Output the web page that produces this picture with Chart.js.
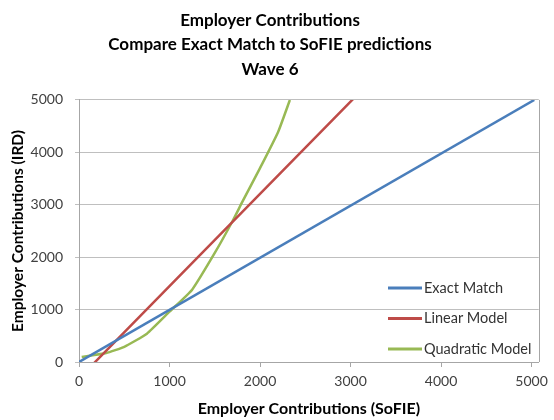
<!DOCTYPE html>
<html>
<head>
<meta charset="utf-8">
<script src="https://cdn.jsdelivr.net/npm/chart.js@4"></script>
<style>
  body { margin: 0; background: #fff; }
</style>
</head>
<body>
<canvas id="myChart" width="554" height="420"></canvas>
<script>
// data
const titleLines = ['Employer Contributions', 'Compare Exact Match to SoFIE predictions', 'Wave 6']
const seriesNames = ['Exact Match', 'Linear Model', 'Quadratic Model']
const xTitle = 'Employer Contributions (SoFIE)'
const yTitle = 'Employer Contributions (IRD)'
const xTicks = [0, 1000, 2000, 3000, 4000, 5000]
const yTicks = [0, 1000, 2000, 3000, 4000, 5000]

const exactX = [0, 5030]
const exactY = [0, 5000]
const linearX = [150, 1000, 2000, 3030]
const linearY = [-50, 1450, 3210, 5020]
const quadX = [30, 300, 500, 750, 1000, 1250, 1500, 1700, 1800, 2000, 2200, 2330]
const quadY = [95, 170, 290, 540, 960, 1380, 2080, 2700, 3040, 3700, 4390, 5000]

const colors = ['#4a7ebb', '#be4b48', '#98b954']

const pts = (xs, ys) => xs.map((x, i) => ({x: x, y: ys[i]}))

// little legend drawn inside the plot, like the excel one
const insideLegend = {
    id: 'insideLegend',
    afterDraw(chart) {
        const c = chart.ctx
        c.save()
        c.font = '14.5px Lato'
        c.fillStyle = '#333'
        c.textBaseline = 'middle'
        chart.data.datasets.forEach(function (ds, i) {
            const y = 288 + i * 30.5
            c.strokeStyle = ds.borderColor
            c.lineWidth = 3
            c.beginPath()
            c.moveTo(388, y)
            c.lineTo(422, y)
            c.stroke()
            c.fillText(ds.label, 424, y)
        })
        c.restore()
    }
}

// right side frame line
const frame = {
    id: 'frame',
    beforeDatasetsDraw(chart) {
        const a = chart.chartArea
        const c = chart.ctx
        c.save()
        c.strokeStyle = '#a6a6a6'
        c.lineWidth = 1
        c.beginPath()
        c.moveTo(Math.round(a.right) + 0.5, a.top)
        c.lineTo(Math.round(a.right) + 0.5, a.bottom)
        c.stroke()
        c.restore()
    }
}

const ctx = document.getElementById('myChart')
let myChart = new Chart(ctx, {
    type: 'line',
    data: {
        datasets: [
            {label: seriesNames[0], data: pts(exactX, exactY), borderColor: colors[0], backgroundColor: colors[0]},
            {label: seriesNames[1], data: pts(linearX, linearY), borderColor: colors[1], backgroundColor: colors[1]},
            {label: seriesNames[2], data: pts(quadX, quadY), borderColor: colors[2], backgroundColor: colors[2], tension: 0.15}
        ]
    },
    plugins: [frame, insideLegend],
    options: {
        responsive: false,
        animation: false,
        devicePixelRatio: 1,
        layout: {padding: {left: 0, right: 14, top: 0, bottom: 0}},
        datasets: {
            line: {pointRadius: 0, borderWidth: 2.5}
        },
        plugins: {
            legend: {display: false},
            tooltip: {enabled: false},
            title: {
                display: true,
                text: titleLines,
                color: '#000',
                font: {family: 'Lato', size: 17, weight: 'bold', lineHeight: 1.45},
                padding: {top: 8, bottom: 18}
            }
        },
        scales: {
            x: {
                type: 'linear',
                min: 0,
                max: 5080,
                afterFit: function (axis) { axis.height = 58 },
                afterBuildTicks: function (axis) { axis.ticks = xTicks.map(v => ({value: v})) },
                ticks: {color: '#404040', padding: 6, callback: v => String(v),
                        font: {family: 'Lato', size: 14}},
                grid: {drawOnChartArea: false, tickLength: 5, color: '#a6a6a6'},
                border: {color: '#a6a6a6'},
                title: {display: true, text: xTitle, color: '#000', padding: 2,
                        font: {family: 'Lato', size: 16, weight: 'bold'}}
            },
            y: {
                type: 'linear',
                min: 0,
                max: 5000,
                afterFit: function (axis) { axis.width = 79 },
                afterBuildTicks: function (axis) { axis.ticks = yTicks.map(v => ({value: v})) },
                ticks: {color: '#404040', padding: 12, callback: v => String(v),
                        font: {family: 'Lato', size: 14}},
                grid: {color: '#bfbfbf', tickLength: 4},
                border: {color: '#a6a6a6'},
                title: {display: true, text: yTitle, color: '#000', padding: 9,
                        font: {family: 'Lato', size: 15.5, weight: 'bold'}}
            }
        }
    }
})
</script>
</body>
</html>
